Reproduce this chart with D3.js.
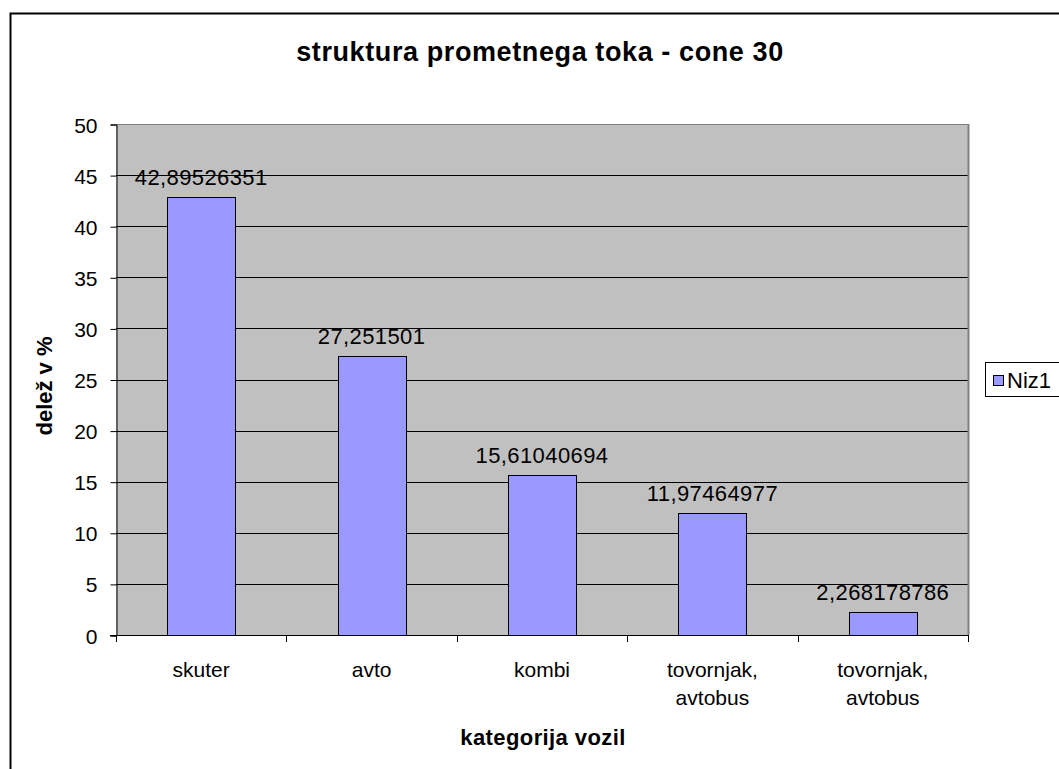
<!DOCTYPE html>
<html>
<head>
<meta charset="utf-8">
<script src="https://cdn.jsdelivr.net/npm/d3@7"></script>
<style>
  body { margin: 0; background: #fff; }
  text { font-family: "Liberation Sans", Arial, sans-serif; fill: #000; }
</style>
</head>
<body>
<div id="chart"></div>
<script>
// chart size
const width = 1059
const height = 769

// data
const categories = ["skuter", "avto", "kombi", "tovornjak, avtobus", "tovornjak, avtobus "]
const values = [42.89526351, 27.251501, 15.61040694, 11.97464977, 2.268178786]
const labels = ["42,89526351", "27,251501", "15,61040694", "11,97464977", "2,268178786"]
const yTicks = [0, 5, 10, 15, 20, 25, 30, 35, 40, 45, 50]
const seriesName = "Niz1"

// plot area
const plot = {left: 116, right: 968, top: 124, bottom: 635}

var svg = d3.select("#chart")
            .append("svg")
            .attr("width", width)
            .attr("height", height)

// outer chart border (cut off at the right and bottom)
svg.append("rect")
   .attr("x", 10.5).attr("y", 13.5)
   .attr("width", 1100).attr("height", 800)
   .attr("fill", "white")
   .attr("stroke", "#000")
   .attr("stroke-width", 2)

var x = d3.scaleBand()
          .domain(categories)
          .range([plot.left, plot.right])
          .paddingInner(0.6)
          .paddingOuter(0.3)

var y = d3.scaleLinear()
          .domain([0, 50])
          .range([plot.bottom, plot.top])

// plot background
svg.append("rect")
   .attr("x", plot.left).attr("y", plot.top)
   .attr("width", plot.right - plot.left)
   .attr("height", plot.bottom - plot.top)
   .attr("fill", "#c0c0c0")

// gridlines
svg.append("g")
   .selectAll("line")
   .data(yTicks.filter(d => d > 0))
   .enter()
   .append("line")
   .attr("x1", plot.left).attr("x2", plot.right)
   .attr("y1", d => Math.round(y(d)) + 0.5)
   .attr("y2", d => Math.round(y(d)) + 0.5)
   .attr("stroke", d => d === 50 ? "#808080" : "#000")
   .attr("stroke-width", 1)

// right border of the plot area
svg.append("line")
   .attr("x1", plot.right + 0.5).attr("x2", plot.right + 0.5)
   .attr("y1", plot.top).attr("y2", plot.bottom)
   .attr("stroke", "#808080").attr("stroke-width", 2)

// bars
svg.append("g")
   .selectAll("rect")
   .data(values)
   .enter()
   .append("rect")
   .attr("x", (d, i) => Math.round(x(categories[i])) + 0.5)
   .attr("y", d => Math.round(y(d)) + 0.5)
   .attr("width", Math.round(x.bandwidth()))
   .attr("height", d => plot.bottom - Math.round(y(d)))
   .attr("fill", "#9999ff")
   .attr("stroke", "#000")
   .attr("stroke-width", 1)

// data labels
svg.append("g")
   .selectAll("text")
   .data(values)
   .enter()
   .append("text")
   .attr("x", (d, i) => x(categories[i]) + x.bandwidth() / 2)
   .attr("y", d => y(d) - 12)
   .attr("text-anchor", "middle")
   .style("font-size", "22px")
   .style("letter-spacing", "0.4px")
   .text((d, i) => labels[i])

// y axis
var yAxis = d3.axisLeft(y)
              .tickValues(yTicks)
              .tickSize(6)
              .tickPadding(13)
              .tickFormat(d3.format("d"))

var yg = svg.append("g")
   .attr("transform", "translate(" + (plot.left + 0.5) + ",0.5)")
   .call(yAxis)
yg.select(".domain").attr("stroke", "#000")
yg.selectAll("text").style("font-size", "21px").attr("dy", "0.36em")

// x axis
var xPos = d3.scaleLinear().domain([0, categories.length]).range([plot.left, plot.right])
svg.append("line")
   .attr("x1", plot.left - 6).attr("x2", plot.right)
   .attr("y1", plot.bottom + 0.5).attr("y2", plot.bottom + 0.5)
   .attr("stroke", "#000")
svg.append("g")
   .selectAll("line")
   .data(d3.range(categories.length + 1))
   .enter()
   .append("line")
   .attr("x1", d => Math.round(xPos(d)) + 0.5)
   .attr("x2", d => Math.round(xPos(d)) + 0.5)
   .attr("y1", plot.bottom)
   .attr("y2", plot.bottom + 7)
   .attr("stroke", "#000")

// category labels, wrapped at the comma
var catText = svg.append("g")
   .selectAll("text")
   .data(categories)
   .enter()
   .append("text")
   .attr("text-anchor", "middle")
   .style("font-size", "21px")
   .attr("transform", d => "translate(" + (x(d) + x.bandwidth() / 2) + "," + 677 + ")")

catText.each(function(d) {
  var parts = d.trim().split(", ")
  var t = d3.select(this)
  parts.forEach(function(p, i) {
    t.append("tspan")
     .attr("x", 0)
     .attr("y", i * 28)
     .text(i < parts.length - 1 ? p + "," : p)
  })
})

// title
svg.append("text")
   .attr("x", 540).attr("y", 61)
   .attr("text-anchor", "middle")
   .style("font-size", "27px")
   .style("font-weight", "bold")
   .style("letter-spacing", "0.6px")
   .text("struktura prometnega toka - cone 30")

// axis titles
svg.append("text")
   .attr("x", 543).attr("y", 745)
   .attr("text-anchor", "middle")
   .style("font-size", "22px")
   .style("font-weight", "bold")
   .style("letter-spacing", "0.4px")
   .text("kategorija vozil")

svg.append("text")
   .attr("transform", "translate(52,386) rotate(-90)")
   .attr("text-anchor", "middle")
   .style("font-size", "22px")
   .style("font-weight", "bold")
   .text("delež v %")

// legend
var legend = svg.append("g")
legend.append("rect")
   .attr("x", 985.5).attr("y", 362.5)
   .attr("width", 100).attr("height", 34)
   .attr("fill", "white")
   .attr("stroke", "#000")
legend.append("rect")
   .attr("x", 993.5).attr("y", 375.5)
   .attr("width", 10).attr("height", 10)
   .attr("fill", "#9999ff")
   .attr("stroke", "#000")
legend.append("text")
   .attr("x", 1007).attr("y", 388)
   .style("font-size", "22px")
   .text(seriesName)
</script>
</body>
</html>
